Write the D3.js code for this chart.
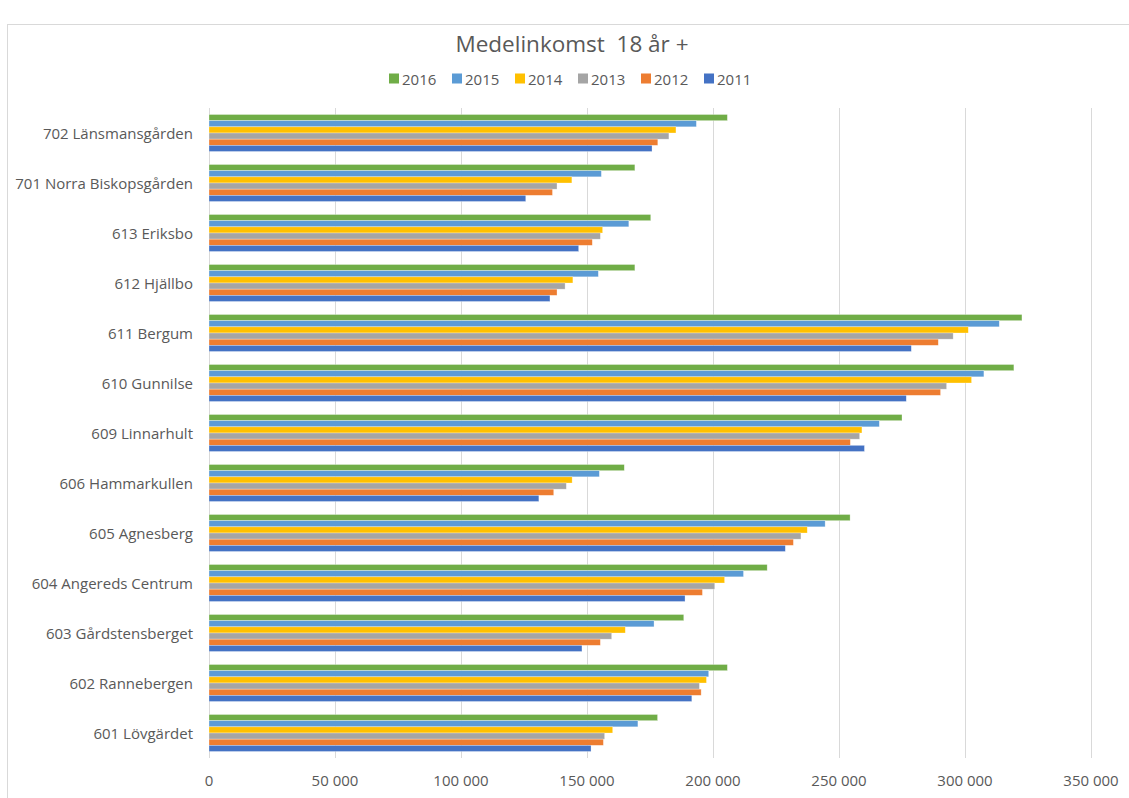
<!DOCTYPE html>
<html>
<head>
<meta charset="utf-8">
<script src="https://cdn.jsdelivr.net/npm/d3@7"></script>
<style>
  body { margin: 0; background: #fff; }
  svg { font-family: "Open Sans", sans-serif; }
</style>
</head>
<body>
<svg id="chart" width="1129" height="798"></svg>
<script>
// categories, top to bottom as drawn
var categories = ["702 Länsmansgården", "701 Norra Biskopsgården", "613 Eriksbo", "612 Hjällbo",
  "611 Bergum", "610 Gunnilse", "609 Linnarhult", "606 Hammarkullen", "605 Agnesberg",
  "604 Angereds Centrum", "603 Gårdstensberget", "602 Rannebergen", "601 Lövgärdet"];

var years = ["2016", "2015", "2014", "2013", "2012", "2011"];
var colors = ["#70AD47", "#5B9BD5", "#FFC000", "#A5A5A5", "#ED7D31", "#4472C4"];

var y2016 = [205700, 169000, 175300, 169000, 322600, 319400, 275000, 164800, 254400, 221500, 188400, 205700, 178000];
var y2015 = [193400, 155700, 166600, 154500, 313600, 307500, 266000, 154900, 244500, 212100, 176600, 198300, 170200];
var y2014 = [185300, 144000, 156200, 144400, 301300, 302600, 259100, 144100, 237400, 204600, 165200, 197400, 160200];
var y2013 = [182500, 138100, 155300, 141300, 295300, 292700, 258200, 141800, 234900, 200700, 159800, 194600, 157000];
var y2012 = [178100, 136300, 152100, 138100, 289400, 290300, 254500, 136800, 231900, 195800, 155300, 195300, 156500];
var y2011 = [175800, 125700, 146700, 135300, 278700, 276700, 260100, 130900, 228700, 188900, 148000, 191600, 151600];

var tickValues = [0, 50000, 100000, 150000, 200000, 250000, 300000, 350000];

var series = [y2016, y2015, y2014, y2013, y2012, y2011];

var svg = d3.select("#chart"),
    margin = {top: 108, left: 209},
    width = +svg.attr("width"),
    height = +svg.attr("height");

var textColor = "#595959";

// outer chart border
svg.append("rect")
   .attr("x", 7.5).attr("y", 24.5)
   .attr("width", width).attr("height", height)
   .attr("fill", "none")
   .attr("stroke", "#d9d9d9");

var x = d3.scaleLinear()
          .domain([0, 350000])
          .range([margin.left, 1091]);

var y = d3.scaleBand()
          .domain(categories)
          .range([margin.top, 758])
          .paddingInner(0.26)
          .paddingOuter(0.13);

var yInner = d3.scaleBand()
               .domain(years)
               .range([0, y.bandwidth()]);

// title
svg.append("text")
   .attr("x", 572).attr("y", 43)
   .attr("text-anchor", "middle")
   .attr("dominant-baseline", "central")
   .style("white-space", "pre")
   .attr("font-size", 22.5)
   .attr("fill", textColor)
   .text("Medelinkomst  18 år +");

// legend
var legend = svg.append("g").attr("class", "legend");
years.forEach(function(yr, i) {
    var lx = 389 + i * 63;
    legend.append("rect")
          .attr("x", lx).attr("y", 73.5)
          .attr("width", 10).attr("height", 10)
          .attr("fill", colors[i]);
    legend.append("text")
          .attr("x", lx + 13).attr("y", 79)
          .attr("dominant-baseline", "central")
          .attr("font-size", 15)
          .attr("fill", textColor)
          .text(yr);
});

// gridlines
svg.append("g")
   .selectAll("line")
   .data(tickValues)
   .enter().append("line")
   .attr("x1", function(d) { return x(d) + 0.5; })
   .attr("x2", function(d) { return x(d) + 0.5; })
   .attr("y1", margin.top)
   .attr("y2", 758)
   .attr("stroke", "#d9d9d9")
   .attr("stroke-width", 1);

// bars
var groups = svg.append("g")
   .selectAll("g")
   .data(categories)
   .enter().append("g")
   .attr("transform", function(d) { return "translate(0," + y(d) + ")"; });

groups.selectAll("rect")
   .data(function(d, ci) {
       return years.map(function(yr, si) { return {year: yr, value: series[si][ci], color: colors[si]}; });
   })
   .enter().append("rect")
   .attr("x", x(0))
   .attr("y", function(d) { return yInner(d.year); })
   .attr("width", function(d) { return x(d.value) - x(0); })
   .attr("height", yInner.bandwidth())
   .attr("fill", function(d) { return d.color; })
   .attr("stroke", "#fff")
   .attr("stroke-opacity", 0.5)
   .attr("stroke-width", 0.6);

// category labels
svg.append("g")
   .selectAll("text")
   .data(categories)
   .enter().append("text")
   .attr("x", 193)
   .attr("y", function(d) { return y(d) + y.bandwidth() / 2; })
   .attr("text-anchor", "end")
   .attr("dominant-baseline", "central")
   .attr("font-size", 15)
   .attr("fill", textColor)
   .text(function(d) { return d; });

// x tick labels
var fmt = function(d) { return d3.format(",")(d).replace(/,/g, " "); };
svg.append("g")
   .selectAll("text")
   .data(tickValues)
   .enter().append("text")
   .attr("x", function(d) { return x(d); })
   .attr("y", 780)
   .attr("text-anchor", "middle")
   .attr("dominant-baseline", "central")
   .attr("font-size", 15)
   .attr("fill", textColor)
   .text(fmt);
</script>
</body>
</html>
